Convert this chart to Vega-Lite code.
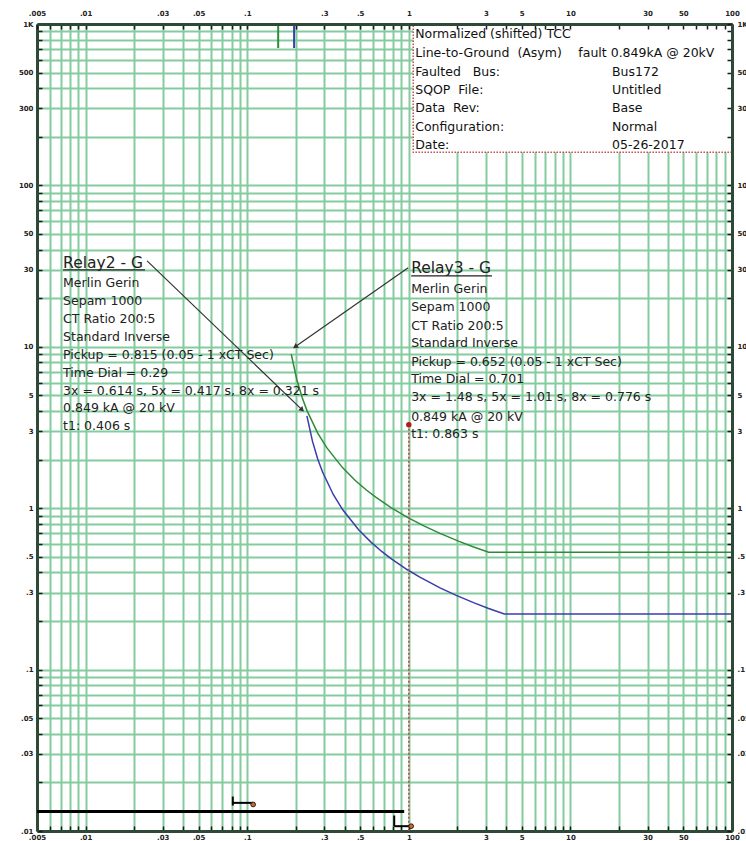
{
  "$schema": "https://vega.github.io/schema/vega-lite/v6.json",
  "width": 695,
  "height": 807,
  "autosize": {"type": "none"},
  "padding": {"left": 37, "top": 24, "right": 14, "bottom": 10},
  "background": "white",
  "config": {
    "view": {"stroke": null},
    "font": "DejaVu Sans",
    "axis": {"labelFont": "DejaVu Sans", "labelFontSize": 7, "labelFontWeight": "bold", "labelColor": "#222222", "title": null, "labelOverlap": false, "labelFlush": false, "labelBound": false}
  },
  "datasets": {
    "curves": [
      {"I": 0.1872, "T": 9.0, "relay": "Relay3 - G"},
      {"I": 0.2028, "T": 6.25, "relay": "Relay3 - G"},
      {"I": 0.2184, "T": 4.87, "relay": "Relay3 - G"},
      {"I": 0.234, "T": 4.038, "relay": "Relay3 - G"},
      {"I": 0.273, "T": 2.921, "relay": "Relay3 - G"},
      {"I": 0.312, "T": 2.355, "relay": "Relay3 - G"},
      {"I": 0.39, "T": 1.778, "relay": "Relay3 - G"},
      {"I": 0.468, "T": 1.48, "relay": "Relay3 - G"},
      {"I": 0.546, "T": 1.296, "relay": "Relay3 - G"},
      {"I": 0.624, "T": 1.17, "relay": "Relay3 - G"},
      {"I": 0.78, "T": 1.005, "relay": "Relay3 - G"},
      {"I": 1.0, "T": 0.869, "relay": "Relay3 - G"},
      {"I": 1.248, "T": 0.774, "relay": "Relay3 - G"},
      {"I": 1.56, "T": 0.698, "relay": "Relay3 - G"},
      {"I": 2.028, "T": 0.625, "relay": "Relay3 - G"},
      {"I": 2.496, "T": 0.577, "relay": "Relay3 - G"},
      {"I": 3.12, "T": 0.533, "relay": "Relay3 - G"},
      {"I": 100, "T": 0.533, "relay": "Relay3 - G"},
      {"I": 0.234, "T": 3.734, "relay": "Relay2 - G"},
      {"I": 0.2535, "T": 2.593, "relay": "Relay2 - G"},
      {"I": 0.273, "T": 2.02, "relay": "Relay2 - G"},
      {"I": 0.2925, "T": 1.675, "relay": "Relay2 - G"},
      {"I": 0.3413, "T": 1.212, "relay": "Relay2 - G"},
      {"I": 0.39, "T": 0.977, "relay": "Relay2 - G"},
      {"I": 0.4875, "T": 0.7375, "relay": "Relay2 - G"},
      {"I": 0.585, "T": 0.614, "relay": "Relay2 - G"},
      {"I": 0.6825, "T": 0.5376, "relay": "Relay2 - G"},
      {"I": 0.78, "T": 0.4852, "relay": "Relay2 - G"},
      {"I": 0.975, "T": 0.417, "relay": "Relay2 - G"},
      {"I": 1.17, "T": 0.3738, "relay": "Relay2 - G"},
      {"I": 1.56, "T": 0.3212, "relay": "Relay2 - G"},
      {"I": 1.95, "T": 0.2894, "relay": "Relay2 - G"},
      {"I": 2.535, "T": 0.2591, "relay": "Relay2 - G"},
      {"I": 3.12, "T": 0.2392, "relay": "Relay2 - G"},
      {"I": 3.9, "T": 0.221, "relay": "Relay2 - G"},
      {"I": 100, "T": 0.221, "relay": "Relay2 - G"}
    ],
    "pickups": [
      {"I": 0.1554, "T": 1000, "T2": 710, "relay": "Relay3 - G"},
      {"I": 0.195, "T": 1000, "T2": 710, "relay": "Relay2 - G"}
    ],
    "leaders": [
      {"I": 0.024, "T": 34.08, "I2": 0.2187, "T2": 4.07, "dir": 44},
      {"I": 0.991, "T": 30.85, "I2": 0.198, "T2": 10.0, "dir": 145}
    ],
    "underlines": [
      {"I": 0.00725, "I2": 0.0233, "T": 29.97},
      {"I": 1.034, "I2": 3.27, "T": 27.53}
    ],
    "texts": [
      {"I": 0.00725, "T": 33.2, "text": "Relay2 - G", "kind": "title"},
      {"I": 0.00725, "T": 24.85, "text": "Merlin Gerin", "kind": "body"},
      {"I": 0.00725, "T": 19.22, "text": "Sepam 1000", "kind": "body"},
      {"I": 0.00725, "T": 14.87, "text": "CT Ratio 200:5", "kind": "body"},
      {"I": 0.00725, "T": 11.55, "text": "Standard Inverse", "kind": "body"},
      {"I": 0.00725, "T": 8.89, "text": "Pickup = 0.815 (0.05 - 1  xCT Sec)", "kind": "body"},
      {"I": 0.00725, "T": 6.91, "text": "Time Dial = 0.29", "kind": "body"},
      {"I": 0.00725, "T": 5.35, "text": "3x = 0.614 s, 5x = 0.417 s, 8x = 0.321 s", "kind": "body"},
      {"I": 0.00725, "T": 4.16, "text": "0.849 kA @ 20 kV", "kind": "body"},
      {"I": 0.00725, "T": 3.23, "text": "t1: 0.406 s", "kind": "body"},
      {"I": 1.034, "T": 30.6, "text": "Relay3 - G", "kind": "title"},
      {"I": 1.034, "T": 22.7, "text": "Merlin Gerin", "kind": "body"},
      {"I": 1.034, "T": 17.57, "text": "Sepam 1000", "kind": "body"},
      {"I": 1.034, "T": 13.45, "text": "CT Ratio 200:5", "kind": "body"},
      {"I": 1.034, "T": 10.51, "text": "Standard Inverse", "kind": "body"},
      {"I": 1.034, "T": 8.02, "text": "Pickup = 0.652 (0.05 - 1  xCT Sec)", "kind": "body"},
      {"I": 1.034, "T": 6.32, "text": "Time Dial = 0.701", "kind": "body"},
      {"I": 1.034, "T": 4.86, "text": "3x = 1.48 s, 5x = 1.01 s, 8x = 0.776 s", "kind": "body"},
      {"I": 1.034, "T": 3.69, "text": "0.849 kA @ 20 kV", "kind": "body"},
      {"I": 1.034, "T": 2.88, "text": "t1: 0.863 s", "kind": "body"}
    ],
    "box": [
      {"I": 1.065, "I2": 100, "T": 1000, "T2": 160.6}
    ],
    "boxtext": [
      {"I": 1.095, "T": 863, "text": "Normalized (shifted) TCC"},
      {"I": 1.095, "T": 664, "text": "Line-to-Ground \u00a0(Asym)"},
      {"I": 11.2, "T": 664, "text": "fault 0.849kA @ 20kV"},
      {"I": 1.095, "T": 506, "text": "Faulted \u00a0 Bus:"},
      {"I": 18.09, "T": 506, "text": "Bus172"},
      {"I": 1.095, "T": 390, "text": "SQOP \u00a0File:"},
      {"I": 18.09, "T": 390, "text": "Untitled"},
      {"I": 1.095, "T": 300, "text": "Data \u00a0Rev:"},
      {"I": 18.09, "T": 300, "text": "Base"},
      {"I": 1.095, "T": 231, "text": "Configuration:"},
      {"I": 18.09, "T": 231, "text": "Normal"},
      {"I": 1.095, "T": 178, "text": "Date:"},
      {"I": 18.09, "T": 178, "text": "05-26-2017"}
    ],
    "fault": [
      {"I": 1, "T": 3.29, "T2": 0.01}
    ],
    "bottomline": [
      {"I": 0.005, "I2": 0.936, "T": 0.0132}
    ],
    "markers": [
      {"I": 0.0814, "I2": 0.0814, "T": 0.01635, "T2": 0.01438},
      {"I": 0.0814, "I2": 0.1088, "T": 0.01494, "T2": 0.01494},
      {"I": 0.812, "I2": 0.812, "T": 0.01247, "T2": 0.01071},
      {"I": 0.812, "I2": 1.034, "T": 0.01071, "T2": 0.01071}
    ],
    "markerdots": [
      {"I": 0.1088, "T": 0.0146},
      {"I": 1.034, "T": 0.01071}
    ]
  },
  "resolve": {"axis": {"x": "independent", "y": "independent"}},
  "layer": [
    {
      "data": {"name": "curves"},
      "mark": {"type": "line", "strokeWidth": 1.5, "clip": true},
      "encoding": {
        "x": {"field": "I", "type": "quantitative", "scale": {"type": "log", "domain": [0.005, 100], "nice": false},
          "axis": {"orient": "bottom", "zindex": 0,
            "values": [0.005,0.006,0.007,0.008,0.009,0.01,0.02,0.03,0.04,0.05,0.06,0.07,0.08,0.09,0.1,0.2,0.3,0.4,0.5,0.6,0.7,0.8,0.9,1,2,3,4,5,6,7,8,9,10,20,30,40,50,60,70,80,90,100],
            "grid": true, "gridColor": "#84cc9e", "gridWidth": 2, "gridOpacity": 1,
            "domain": true, "domainColor": "#2e4a36", "domainWidth": 3,
            "ticks": true, "tickSize": -5, "tickColor": "#1a1a1a", "tickWidth": 1.5,
            "labelPadding": 7,
            "labelExpr": "indexof([0.005,0.01,0.03,0.05,0.1,0.3,0.5,1,3,5,10,30,50,100], datum.value) >= 0 ? replace(format(datum.value, '~g'), '0.', '.') : ''"}},
        "y": {"field": "T", "type": "quantitative", "scale": {"type": "log", "domain": [0.01, 1000], "nice": false},
          "axis": {"orient": "left", "zindex": 0,
            "values": [0.01,0.02,0.03,0.04,0.05,0.06,0.07,0.08,0.09,0.1,0.2,0.3,0.4,0.5,0.6,0.7,0.8,0.9,1,2,3,4,5,6,7,8,9,10,20,30,40,50,60,70,80,90,100,200,300,400,500,600,700,800,900,1000],
            "grid": true, "gridColor": "#84cc9e", "gridWidth": 2, "gridOpacity": 1,
            "domain": true, "domainColor": "#2e4a36", "domainWidth": 3,
            "ticks": true, "tickSize": -5, "tickColor": "#1a1a1a", "tickWidth": 1.5,
            "labelPadding": 9,
            "labelExpr": "datum.value == 1000 ? '1K' : indexof([0.01,0.03,0.05,0.1,0.3,0.5,1,3,5,10,30,50,100,300,500], datum.value) >= 0 ? replace(format(datum.value, '~g'), '0.', '.') : ''"}},
        "color": {"field": "relay", "type": "nominal", "scale": {"domain": ["Relay2 - G", "Relay3 - G"], "range": ["#3c3cac", "#2e8b3a"]}, "legend": null}
      }
    },
    {
      "data": {"name": "pickups"},
      "mark": {"type": "rule", "strokeWidth": 2},
      "encoding": {
        "x": {"field": "I", "type": "quantitative", "scale": {"type": "log", "domain": [0.005, 100], "nice": false},
          "axis": {"orient": "top", "zindex": 1,
            "values": [0.005,0.006,0.007,0.008,0.009,0.01,0.02,0.03,0.04,0.05,0.06,0.07,0.08,0.09,0.1,0.2,0.3,0.4,0.5,0.6,0.7,0.8,0.9,1,2,3,4,5,6,7,8,9,10,20,30,40,50,60,70,80,90,100],
            "grid": false,
            "domain": true, "domainColor": "#2e4a36", "domainWidth": 3,
            "ticks": true, "tickSize": -5, "tickColor": "#1a1a1a", "tickWidth": 1.5,
            "labelPadding": 13,
            "labelExpr": "indexof([0.005,0.01,0.03,0.05,0.1,0.3,0.5,1,3,5,10,30,50,100], datum.value) >= 0 ? replace(format(datum.value, '~g'), '0.', '.') : ''"}},
        "y": {"field": "T", "type": "quantitative", "scale": {"type": "log", "domain": [0.01, 1000], "nice": false},
          "axis": {"orient": "right", "zindex": 1,
            "values": [0.01,0.02,0.03,0.04,0.05,0.06,0.07,0.08,0.09,0.1,0.2,0.3,0.4,0.5,0.6,0.7,0.8,0.9,1,2,3,4,5,6,7,8,9,10,20,30,40,50,60,70,80,90,100,200,300,400,500,600,700,800,900,1000],
            "grid": false,
            "domain": true, "domainColor": "#2e4a36", "domainWidth": 3,
            "ticks": true, "tickSize": -5, "tickColor": "#1a1a1a", "tickWidth": 1.5,
            "labelPadding": 10,
            "labelExpr": "datum.value == 1000 ? '1K' : indexof([0.01,0.03,0.05,0.1,0.3,0.5,1,3,5,10,30,50,100,300,500], datum.value) >= 0 ? replace(format(datum.value, '~g'), '0.', '.') : ''"}},
        "y2": {"field": "T2"},
        "color": {"field": "relay", "type": "nominal", "scale": {"domain": ["Relay2 - G", "Relay3 - G"], "range": ["#3c3cac", "#2e8b3a"]}, "legend": null}
      }
    },
    {
      "data": {"name": "leaders"},
      "mark": {"type": "rule", "strokeWidth": 1.2, "color": "#333333"},
      "encoding": {
        "x": {"field": "I", "type": "quantitative", "scale": {"type": "log", "domain": [0.005, 100], "nice": false}, "axis": null},
        "y": {"field": "T", "type": "quantitative", "scale": {"type": "log", "domain": [0.01, 1000], "nice": false}, "axis": null},
        "x2": {"field": "I2"},
        "y2": {"field": "T2"}
      }
    },
    {
      "data": {"name": "leaders"},
      "mark": {"type": "point", "shape": "triangle-right", "filled": true, "size": 35, "color": "#333333", "opacity": 1},
      "encoding": {
        "x": {"field": "I2", "type": "quantitative", "scale": {"type": "log", "domain": [0.005, 100], "nice": false}, "axis": null},
        "y": {"field": "T2", "type": "quantitative", "scale": {"type": "log", "domain": [0.01, 1000], "nice": false}, "axis": null},
        "angle": {"field": "dir", "type": "quantitative", "scale": null}
      }
    },
    {
      "data": {"name": "underlines"},
      "mark": {"type": "rule", "strokeWidth": 1.2, "color": "#222222"},
      "encoding": {
        "x": {"field": "I", "type": "quantitative", "scale": {"type": "log", "domain": [0.005, 100], "nice": false}, "axis": null},
        "y": {"field": "T", "type": "quantitative", "scale": {"type": "log", "domain": [0.01, 1000], "nice": false}, "axis": null},
        "x2": {"field": "I2"}
      }
    },
    {
      "data": {"name": "texts"},
      "transform": [{"filter": "datum.kind == 'title'"}],
      "mark": {"type": "text", "align": "left", "baseline": "middle", "font": "DejaVu Sans", "fontSize": 15.5, "color": "#222222"},
      "encoding": {
        "x": {"field": "I", "type": "quantitative", "scale": {"type": "log", "domain": [0.005, 100], "nice": false}, "axis": null},
        "y": {"field": "T", "type": "quantitative", "scale": {"type": "log", "domain": [0.01, 1000], "nice": false}, "axis": null},
        "text": {"field": "text", "type": "nominal"}
      }
    },
    {
      "data": {"name": "texts"},
      "transform": [{"filter": "datum.kind == 'body'"}],
      "mark": {"type": "text", "align": "left", "baseline": "middle", "font": "DejaVu Sans", "fontSize": 12.5, "color": "#222222"},
      "encoding": {
        "x": {"field": "I", "type": "quantitative", "scale": {"type": "log", "domain": [0.005, 100], "nice": false}, "axis": null},
        "y": {"field": "T", "type": "quantitative", "scale": {"type": "log", "domain": [0.01, 1000], "nice": false}, "axis": null},
        "text": {"field": "text", "type": "nominal"}
      }
    },
    {
      "data": {"name": "box"},
      "mark": {"type": "rect", "fill": "white", "stroke": "#c0504d", "strokeWidth": 1.5, "strokeDash": [1.5, 1.5]},
      "encoding": {
        "x": {"field": "I", "type": "quantitative", "scale": {"type": "log", "domain": [0.005, 100], "nice": false}, "axis": null},
        "y": {"field": "T", "type": "quantitative", "scale": {"type": "log", "domain": [0.01, 1000], "nice": false}, "axis": null},
        "x2": {"field": "I2"},
        "y2": {"field": "T2"}
      }
    },
    {
      "data": {"name": "boxtext"},
      "mark": {"type": "text", "align": "left", "baseline": "middle", "font": "DejaVu Sans", "fontSize": 12.5, "color": "#111111"},
      "encoding": {
        "x": {"field": "I", "type": "quantitative", "scale": {"type": "log", "domain": [0.005, 100], "nice": false}, "axis": null},
        "y": {"field": "T", "type": "quantitative", "scale": {"type": "log", "domain": [0.01, 1000], "nice": false}, "axis": null},
        "text": {"field": "text", "type": "nominal"}
      }
    },
    {
      "data": {"name": "fault"},
      "mark": {"type": "rule", "strokeWidth": 1.5, "color": "#c04848", "strokeDash": [2, 2]},
      "encoding": {
        "x": {"field": "I", "type": "quantitative", "scale": {"type": "log", "domain": [0.005, 100], "nice": false}, "axis": null},
        "y": {"field": "T", "type": "quantitative", "scale": {"type": "log", "domain": [0.01, 1000], "nice": false}, "axis": null},
        "y2": {"field": "T2"}
      }
    },
    {
      "data": {"name": "fault"},
      "mark": {"type": "point", "filled": true, "size": 30, "color": "#b01c1c", "opacity": 1},
      "encoding": {
        "x": {"field": "I", "type": "quantitative", "scale": {"type": "log", "domain": [0.005, 100], "nice": false}, "axis": null},
        "y": {"field": "T", "type": "quantitative", "scale": {"type": "log", "domain": [0.01, 1000], "nice": false}, "axis": null}
      }
    },
    {
      "data": {"name": "bottomline"},
      "mark": {"type": "rule", "strokeWidth": 3, "color": "#000000"},
      "encoding": {
        "x": {"field": "I", "type": "quantitative", "scale": {"type": "log", "domain": [0.005, 100], "nice": false}, "axis": null},
        "y": {"field": "T", "type": "quantitative", "scale": {"type": "log", "domain": [0.01, 1000], "nice": false}, "axis": null},
        "x2": {"field": "I2"}
      }
    },
    {
      "data": {"name": "markers"},
      "mark": {"type": "rule", "strokeWidth": 2, "color": "#000000"},
      "encoding": {
        "x": {"field": "I", "type": "quantitative", "scale": {"type": "log", "domain": [0.005, 100], "nice": false}, "axis": null},
        "y": {"field": "T", "type": "quantitative", "scale": {"type": "log", "domain": [0.01, 1000], "nice": false}, "axis": null},
        "x2": {"field": "I2"},
        "y2": {"field": "T2"}
      }
    },
    {
      "data": {"name": "markerdots"},
      "mark": {"type": "point", "filled": true, "size": 22, "color": "#d2691e", "stroke": "#222222", "strokeWidth": 1, "opacity": 1},
      "encoding": {
        "x": {"field": "I", "type": "quantitative", "scale": {"type": "log", "domain": [0.005, 100], "nice": false}, "axis": null},
        "y": {"field": "T", "type": "quantitative", "scale": {"type": "log", "domain": [0.01, 1000], "nice": false}, "axis": null}
      }
    }
  ]
}
